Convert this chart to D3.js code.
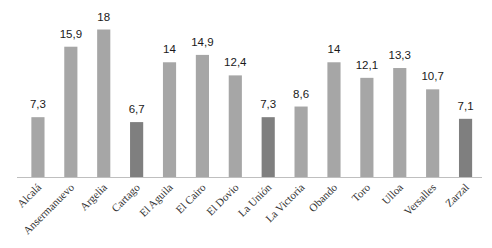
<!DOCTYPE html>
<html><head><meta charset="utf-8">
<script src="https://cdn.jsdelivr.net/npm/d3@7/dist/d3.min.js"></script>
<style>body{margin:0;background:#fff}</style>
</head><body>
<svg id="c" width="492" height="248"></svg>
<script>
const categories = ["Alcalá","Ansermanuevo","Argelia","Cartago","El Aguila","El Cairo","El Dovio","La Unión","La Victoria","Obando","Toro","Ulloa","Versalles","Zarzal"];
const values = [7.3,15.9,18,6.7,14,14.9,12.4,7.3,8.6,14,12.1,13.3,10.7,7.1];
const labels = ["7,3","15,9","18","6,7","14","14,9","12,4","7,3","8,6","14","12,1","13,3","10,7","7,1"];
const highlighted = ["Cartago","La Unión","Zarzal"];

const svg = d3.select("#c");
const x = d3.scaleBand().domain(categories).range([21.5, 482]).paddingInner(0.6).paddingOuter(0.3);
const y = d3.scaleLinear().domain([0, 18]).range([177, 29.5]);

svg.selectAll("rect.bar").data(categories).enter().append("rect")
  .attr("x", d => x(d)).attr("width", x.bandwidth())
  .attr("y", (d,i) => y(values[i])).attr("height", (d,i) => y(0) - y(values[i]))
  .attr("fill", d => highlighted.includes(d) ? "#7f7f7f" : "#a6a6a6");

svg.append("line").attr("x1", 17).attr("x2", 482).attr("y1", y(0)+0.5).attr("y2", y(0)+0.5)
  .attr("stroke", "#bfbfbf").attr("stroke-width", 1);

svg.selectAll("text.val").data(categories).enter().append("text")
  .attr("x", d => x(d) + x.bandwidth()/2).attr("y", (d,i) => y(values[i]) - 9)
  .attr("text-anchor", "middle").attr("font-family", "'Liberation Sans', Arial, sans-serif")
  .attr("font-size", 11.5).attr("fill", "#1a1a1a")
  .text((d,i) => labels[i]);

svg.selectAll("text.cat").data(categories).enter().append("text")
  .attr("transform", d => `translate(${x(d) + x.bandwidth()/2 + 4},${y(0) + 11}) rotate(-45)`)
  .attr("text-anchor", "end").attr("font-family", "'Liberation Serif', 'Times New Roman', serif")
  .attr("font-size", 11).attr("fill", "#333")
  .text(d => d);
</script>
</body></html>
